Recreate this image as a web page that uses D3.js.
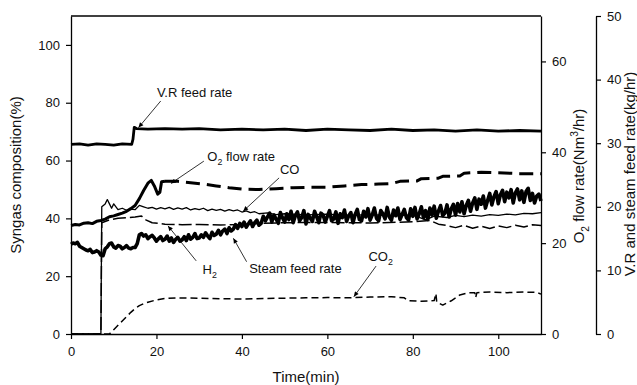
<!DOCTYPE html>
<html>
<head>
<meta charset="utf-8">
<script src="https://cdn.jsdelivr.net/npm/d3@7"></script>
<style>
body { margin: 0; background: #fff; }
svg { font-family: "Liberation Sans", Arial, sans-serif; }
</style>
</head>
<body>
<script>
const time_ticks = [0, 20, 40, 60, 80, 100];
const gas_ticks = [0, 20, 40, 60, 80, 100];
const o2_ticks = [0, 20, 40, 60];
const feed_ticks = [0, 10, 20, 30, 40, 50];

// V.R feed rate (kg/hr), [min, value]
const vr_feed = [[0, 29.8], [2, 29.9], [4, 29.7], [6, 29.9], [8, 29.8], [10, 29.7], [12, 29.9], [14.2, 29.8],
    [14.5, 30.6], [14.8, 32.5], [15.3, 32.3], [18, 32.2], [22, 32.3], [26, 32.2], [30, 32.3], [35, 32.1],
    [40, 32.2], [45, 32.1], [50, 32.2], [55, 32.0], [60, 32.2], [65, 32.1], [70, 32.0], [75, 32.2],
    [80, 32.0], [85, 32.1], [90, 31.9], [95, 32.1], [100, 31.9], [105, 32.0], [110, 31.9]];

// steam feed rate (kg/hr), one reading every half minute from t = 0
const steam_feed = [
    14.1, 14.3, 14.2, 14.4, 13.8, 13.6, 13.4, 13.2, 13.1, 13.3,
    12.8, 12.9, 13.1, 12.9, 12.4, 12.3, 13.4, 13.7, 14.2, 14.3,
    13.7, 13.5, 13.9, 13.8, 13.4, 13.6, 13.9, 13.5, 13.4, 13.6,
    13.6, 14.2, 15.6, 15.8, 15.4, 15.6, 15.0, 15.3, 15.5, 15.1,
    14.6, 15.0, 15.3, 14.7, 14.9, 15.4, 14.6, 15.1, 14.4, 14.9,
    15.2, 14.6, 14.8, 15.3, 14.7, 15.6, 14.9, 15.2, 15.8, 15.0,
    15.1, 15.6, 15.2, 15.9, 15.4, 15.0, 16.0, 15.5, 15.7, 16.3,
    15.6, 16.2, 16.5, 15.8, 16.7, 16.2, 16.5, 17.2, 16.6, 17.4,
    16.9, 17.6, 16.8, 17.3, 17.8, 16.9, 17.5, 17.9, 17.1, 17.4,
    18.5, 17.8, 18.4, 19.0, 17.6, 18.7, 18.1, 17.4, 19.1, 18.3,
    17.6, 18.9, 18.0, 19.3, 17.5, 18.6, 19.2, 17.8, 18.3, 19.4,
    17.3, 18.8, 18.2, 17.7, 19.3, 18.4, 17.5, 19.0, 18.7, 17.6,
    18.5, 19.4, 17.8, 18.1, 19.2, 17.4, 18.9, 18.3, 19.5, 17.7,
    18.6, 19.1, 17.5, 18.8, 19.6, 18.0, 17.8, 19.3, 18.4, 19.7,
    17.9, 18.7, 19.8, 18.2, 17.8, 19.4, 18.9, 18.1, 19.9, 18.4,
    17.9, 19.5, 18.6, 19.8, 18.0, 18.8, 19.6, 18.3, 17.9, 19.7,
    18.5, 19.9, 18.1, 18.9, 20.0, 18.3, 19.4, 18.0, 19.8, 18.7,
    20.1, 18.2, 19.3, 20.2, 18.6, 19.0, 20.3, 18.4, 19.7, 20.4,
    18.7, 20.5, 19.2, 20.8, 18.9, 20.2, 21.0, 19.3, 20.6, 21.4,
    19.6, 21.2, 20.4, 21.7, 19.8, 21.0, 22.1, 20.3, 21.6, 22.4,
    20.5, 21.9, 22.6, 20.8, 22.3, 21.4, 22.7, 20.6, 22.2, 22.8,
    21.1, 22.5, 20.7, 22.4, 22.9, 21.0, 22.1, 20.6, 21.7, 22.0,
    20.9];

// O2 flow rate (Nm3/hr): start-up part, then the steady part
const o2_start = [[0, 23.9], [1, 24.1], [2, 24.0], [3, 24.4], [4, 24.5], [5, 24.3], [6, 24.8], [7, 25.0],
    [8, 25.3], [9, 25.8], [10, 26.0], [11, 26.3], [12, 26.6], [13, 27.0], [14, 27.6], [15, 28.3],
    [16, 29.8], [17, 31.6], [18, 33.2], [18.8, 33.8], [19.6, 32.4], [20.3, 30.8], [20.8, 31.2], [21.2, 33.5], [22, 33.6]];
const o2_flow = [[22, 33.6], [25, 33.6], [28, 33.3], [31, 33.0], [34, 32.6], [37, 32.2], [40, 31.9], [44, 31.8],
    [48, 32.0], [52, 32.2], [56, 32.3], [60, 32.3], [64, 32.6], [68, 32.9], [72, 33.0], [75, 33.1],
    [77, 33.6], [81, 33.7], [82, 34.2], [86, 34.3], [87, 34.7], [91, 34.8], [92, 35.4], [96, 35.6],
    [100, 35.5], [105, 35.3], [110, 35.3]];

// syngas composition (%)
const co = [[0, 0], [7, 0], [7.2, 44], [8, 45], [8.5, 46.5], [9, 45], [9.5, 43.5], [10, 45], [11, 43],
    [12, 43.5], [13, 42.8], [14, 43.2], [15, 43], [16, 44.5], [17, 44], [18, 43.5], [19, 43.8], [20, 43.2],
    [21, 43.7], [22, 43.3], [23, 43.8], [24, 43.1], [25, 43.6], [26, 43.2], [27, 43.7], [28, 42.9],
    [29, 43.4], [30, 43.0], [31, 43.5], [32, 42.7], [33, 43.2], [34, 42.8], [35, 43.1], [36, 42.5],
    [37, 43.0], [38, 42.6], [39, 42.9], [40, 42.2], [41, 42.6], [42, 42.0], [43, 42.3], [44, 41.6],
    [46, 41.9], [48, 41.3], [50, 41.6], [55, 41.2], [60, 41.5], [65, 41.0], [70, 41.3], [75, 40.9],
    [80, 41.2], [83, 39.5], [85, 40.8], [88, 40.3], [90, 41.0], [92, 40.6], [94, 41.1], [96, 40.8],
    [98, 41.3], [100, 41.0], [102, 41.5], [104, 41.2], [106, 41.7], [108, 41.6], [110, 42.0]];
const h2 = [[0, 0], [7, 0], [7.2, 38.5], [9, 39.5], [11, 40], [13, 40.2], [15, 40.5], [16.5, 40.8],
    [17.5, 39.5], [19, 38.5], [22, 38], [26, 37.8], [30, 37.9], [35, 37.7], [40, 37.9], [45, 38.3],
    [50, 38.5], [60, 38.6], [70, 38.4], [80, 38.8], [84, 39.3], [86, 38], [88, 37.5], [90, 36.8],
    [92, 37.6], [94, 36.6], [96, 37.3], [98, 36.5], [100, 37.4], [102, 36.8], [104, 37.6], [106, 37],
    [108, 37.8], [110, 37.5]];
const co2 = [[0, 0], [9, 0], [10, 1.5], [11, 3], [12, 4.5], [13, 6], [14, 7.5], [15, 8.8], [16, 9.8],
    [17, 10.5], [18, 11], [20, 11.8], [22, 12.3], [25, 12.5], [30, 12.4], [35, 12.2], [40, 12.1],
    [45, 12.3], [50, 12.4], [55, 12.5], [60, 12.6], [65, 12.5], [70, 12.8], [75, 12.9], [78, 12.5],
    [79, 11.5], [82, 11.3], [85, 11.6], [85.4, 14.0], [85.6, 11.0], [87, 10.0], [89, 11.5], [91, 13.5],
    [93, 14.3], [94.5, 14.3], [94.7, 12.6], [95, 14.3], [98, 14.5], [102, 14.3], [106, 14.5], [109, 14.4], [110, 13.8]];

const notes = [
    [['V.R feed rate']],
    [['O'], ['2', 'sub'], [' flow rate']],
    [['CO']],
    [['H'], ['2', 'sub']],
    [['Steam feed rate']],
    [['CO'], ['2', 'sub']]
];

const W = 637, H = 385;
const marginTop = 16, marginBottom = 51, marginLeft = 71, marginRight = 96;
const steam_step = 0.5;

const x = d3.scaleLinear().domain([0, 110]).range([marginLeft, W - marginRight]);
const y_gas = d3.scaleLinear().domain([0, 110]).range([H - marginBottom, marginTop]);
const y_o2 = d3.scaleLinear().domain([0, 70]).range([H - marginBottom, marginTop]);
const y_feed = d3.scaleLinear().domain([0, 50]).range([H - marginBottom, marginTop]);
const feed_axis_x = 596;

// where the notes sit, in (min, %) units
const note_layout = [
    { at: [20.1, 82.0], from: [21.0, 80.6], to: [15.8, 71.4] },
    { at: [31.9, 59.9], from: [31.1, 59.8], to: [23.4, 52.1] },
    { at: [48.9, 55.3], from: [48.7, 54.0], to: [40.3, 42.5] },
    { at: [30.8, 20.8], from: [29.3, 25.3], to: [22.7, 37.4] },
    { at: [41.7, 21.2], from: [41.1, 25.0], to: [38.0, 33.1] },
    { at: [69.6, 25.1], from: [71.4, 23.5], to: [66.2, 12.9] }
];

const svg = d3.select('body').append('svg').attr('width', W).attr('height', H);

const rich = (sel, parts, size) => {
    let shift = 0;
    parts.forEach(([str, kind]) => {
        const want = kind === 'sub' ? size * 0.3 : kind === 'sup' ? -size * 0.4 : 0;
        sel.append('tspan')
            .attr('dy', want - shift)
            .attr('font-size', kind ? size * 0.68 : size)
            .text(str);
        shift = want;
    });
};

const style_axis = g => {
    g.attr('font-family', null).attr('font-size', 13);
    g.select('.domain').attr('stroke', '#000').attr('stroke-width', 1.3);
    g.selectAll('.tick line').attr('stroke', '#000').attr('stroke-width', 1.2);
    g.selectAll('.tick text').attr('fill', '#111');
};

svg.append('g')
    .attr('transform', `translate(0, ${H - marginBottom})`)
    .call(d3.axisBottom(x).tickValues(time_ticks).tickSize(5).tickSizeOuter(0).tickPadding(8))
    .call(style_axis);

svg.append('g')
    .attr('transform', `translate(${marginLeft}, 0)`)
    .call(d3.axisLeft(y_gas).tickValues(gas_ticks).tickSize(5).tickSizeOuter(0).tickPadding(6))
    .call(style_axis);

svg.append('g')
    .attr('transform', `translate(${W - marginRight}, 0)`)
    .call(d3.axisRight(y_o2).tickValues(o2_ticks).tickSize(5).tickSizeOuter(0).tickPadding(6))
    .call(style_axis);

svg.append('g')
    .attr('transform', `translate(${feed_axis_x}, 0)`)
    .call(d3.axisRight(y_feed).tickValues(feed_ticks).tickSize(5).tickSizeOuter(0).tickPadding(6))
    .call(style_axis);

svg.append('line')
    .attr('x1', marginLeft).attr('x2', W - marginRight)
    .attr('y1', marginTop).attr('y2', marginTop)
    .attr('stroke', '#000').attr('stroke-width', 1.3);

// series
const line_gas = d3.line().x(d => x(d[0])).y(d => y_gas(d[1]));
const line_o2 = d3.line().x(d => x(d[0])).y(d => y_o2(d[1]));
const line_feed = d3.line().x(d => x(d[0])).y(d => y_feed(d[1]));

const draw = (data, line, width, dash) => svg.append('path')
    .datum(data)
    .attr('fill', 'none')
    .attr('stroke', '#000')
    .attr('stroke-width', width)
    .attr('stroke-linejoin', 'round')
    .attr('stroke-dasharray', dash)
    .attr('d', line);

draw(co2, line_gas, 1.5, '7,4');
draw(h2, line_gas, 1.5, '13,4');
draw(co, line_gas, 1.3, null);
draw(steam_feed.map((v, i) => [i * steam_step, v]), line_feed, 3.6, null);
draw(o2_start, line_o2, 3, null);
draw(o2_flow, line_o2, 3, '14,7');
draw(vr_feed, line_feed, 2.8, null);

// notes with arrows
svg.append('defs').append('marker')
    .attr('id', 'head')
    .attr('viewBox', '0 0 10 10')
    .attr('refX', 10).attr('refY', 5)
    .attr('markerUnits', 'userSpaceOnUse')
    .attr('markerWidth', 8).attr('markerHeight', 5)
    .attr('orient', 'auto')
    .append('path')
    .attr('d', 'M0,0.5 L10,5 L0,9.5 z')
    .attr('fill', '#000');

note_layout.forEach((n, i) => {
    svg.append('line')
        .attr('x1', x(n.from[0])).attr('y1', y_gas(n.from[1]))
        .attr('x2', x(n.to[0])).attr('y2', y_gas(n.to[1]))
        .attr('stroke', '#000').attr('stroke-width', 0.8)
        .attr('marker-end', 'url(#head)');
    svg.append('text')
        .attr('x', x(n.at[0])).attr('y', y_gas(n.at[1]))
        .attr('fill', '#111')
        .call(t => rich(t, notes[i], 13));
});

// axis titles
svg.append('text')
    .attr('transform', `translate(21, ${(marginTop + H - marginBottom) / 2}) rotate(-90)`)
    .attr('text-anchor', 'middle').attr('font-size', 15).attr('fill', '#111')
    .text('Syngas composition(%)');

svg.append('text')
    .attr('x', (marginLeft + W - marginRight) / 2).attr('y', 382)
    .attr('text-anchor', 'middle').attr('font-size', 15).attr('fill', '#111')
    .text('Time(min)');

svg.append('text')
    .attr('transform', `translate(584, 176) rotate(-90)`)
    .attr('text-anchor', 'middle').attr('fill', '#111')
    .call(t => rich(t, [['O'], ['2', 'sub'], [' flow rate(Nm'], ['3', 'sup'], ['/hr)']], 15));

svg.append('text')
    .attr('transform', `translate(635, 174) rotate(-90)`)
    .attr('text-anchor', 'middle').attr('font-size', 15).attr('fill', '#111')
    .text('V.R and steam feed rate(kg/hr)');
</script>
</body>
</html>
